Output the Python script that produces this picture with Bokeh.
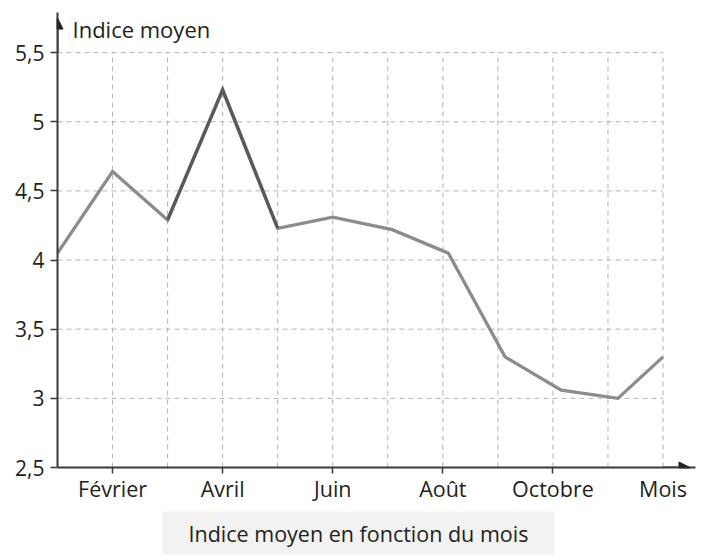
from bokeh.plotting import figure
from bokeh.models import (Range1d, FixedTicker, CustomJSTickFormatter, Label, Arrow,
                          NormalHead, Title)
from bokeh.embed import file_html
from bokeh.resources import INLINE

# ---- data ----
months = [1, 2, 3, 4, 5, 6, 7.08, 8.1, 9.13, 10.15, 11.18, 12]
indice = [4.05, 4.64, 4.29, 5.23, 4.23, 4.31, 4.22, 4.05, 3.30, 3.06, 3.00, 3.30]
peak_idx = [2, 3, 4]  # Mars -> Avril -> Mai drawn darker
x_label_ticks = [2, 4, 6, 8, 10, 12]
x_mark_ticks = [2, 4, 6, 8, 10]
x_tick_labels = {2: "Février", 4: "Avril", 6: "Juin", 8: "Août", 10: "Octobre", 12: "Mois"}
y_ticks = [2.5, 3, 3.5, 4, 4.5, 5, 5.5]
grid_x = [2, 3, 4, 5, 6, 7, 8, 9, 10, 11, 12]
grid_y = [3, 3.5, 4, 4.5, 5, 5.5]
y_title = "Indice moyen"
caption = "Indice moyen en fonction du mois"

FONT = "Open Sans"
TXT = "#231f20"
AX = "#3a3a3a"

p = figure(width=700, height=558, output_backend="svg", toolbar_location=None,
           x_range=Range1d(1, 12.59), y_range=Range1d(2.5, 5.79),
           min_border_left=57, min_border_right=5, min_border_top=12, min_border_bottom=91)
p.outline_line_color = None
p.grid.visible = False

# dashed grid
p.segment(x0=grid_x, y0=[y_ticks[0]] * len(grid_x), x1=grid_x, y1=[y_ticks[-1]] * len(grid_x),
          line_color="#b4b4b4", line_width=1, line_dash="5 4")
p.segment(x0=[months[0]] * len(grid_y), y0=grid_y, x1=[months[-1]] * len(grid_y), y1=grid_y,
          line_color="#b4b4b4", line_width=1, line_dash="5 4")

# data line
p.line(months, indice, line_color="#8c8c8c", line_width=3.3, line_join="miter")
p.line([months[i] for i in peak_idx], [indice[i] for i in peak_idx],
       line_color="#5a5a5a", line_width=3.3, line_join="miter")

# x axis: labels on major ticks (marks hidden), marks on minor ticks
xa = p.xaxis[0]
xa.ticker = FixedTicker(ticks=x_label_ticks, minor_ticks=x_mark_ticks)
xa.major_label_overrides = x_tick_labels
xa.major_tick_in = 0
xa.major_tick_out = 4
xa.major_tick_line_color = None
xa.minor_tick_in = 0
xa.minor_tick_out = 6
xa.minor_tick_line_color = AX
xa.minor_tick_line_width = 1.5
xa.major_label_standoff = 0
xa.axis_line_color = AX
xa.axis_line_width = 2
xa.major_label_text_font = FONT
xa.major_label_text_font_size = "21.5px"
xa.major_label_text_color = TXT

ya = p.yaxis[0]
ya.ticker = FixedTicker(ticks=y_ticks)
ya.formatter = CustomJSTickFormatter(code="return tick.toString().replace('.', ',');")
ya.major_tick_in = 0
ya.major_tick_out = 7
ya.minor_tick_line_color = None
ya.major_label_standoff = 6
ya.axis_line_color = AX
ya.axis_line_width = 2
ya.major_tick_line_color = AX
ya.major_tick_line_width = 1.5
ya.major_label_text_font = FONT
ya.major_label_text_font_size = "21px"
ya.major_label_text_color = TXT

# arrow heads extending the axes
p.add_layout(Arrow(end=NormalHead(size=11, fill_color="#222", line_color="#222"),
                   x_start=12, y_start=2.5, x_end=12.49, y_end=2.5,
                   line_color=AX, line_width=2))
p.add_layout(Arrow(end=NormalHead(size=11, fill_color="#222", line_color="#222"),
                   x_start=1, y_start=5.5, x_end=1, y_end=5.75,
                   line_color=AX, line_width=2))

# y axis title next to the arrow
p.add_layout(Label(x=1, y=5.67, x_offset=15, text=y_title, text_font=FONT,
                   text_font_size="22px", text_color=TXT, text_baseline="middle"))

# caption box below the chart
p.add_layout(Title(text=caption, align="left", offset=105, standoff=8,
                   text_font=FONT, text_font_size="21.5px", text_font_style="normal",
                   text_color=TXT, background_fill_color="#f2f2f2",
                   padding=[26, 7]), "below")

open("out.html", "w").write(file_html(p, INLINE))
